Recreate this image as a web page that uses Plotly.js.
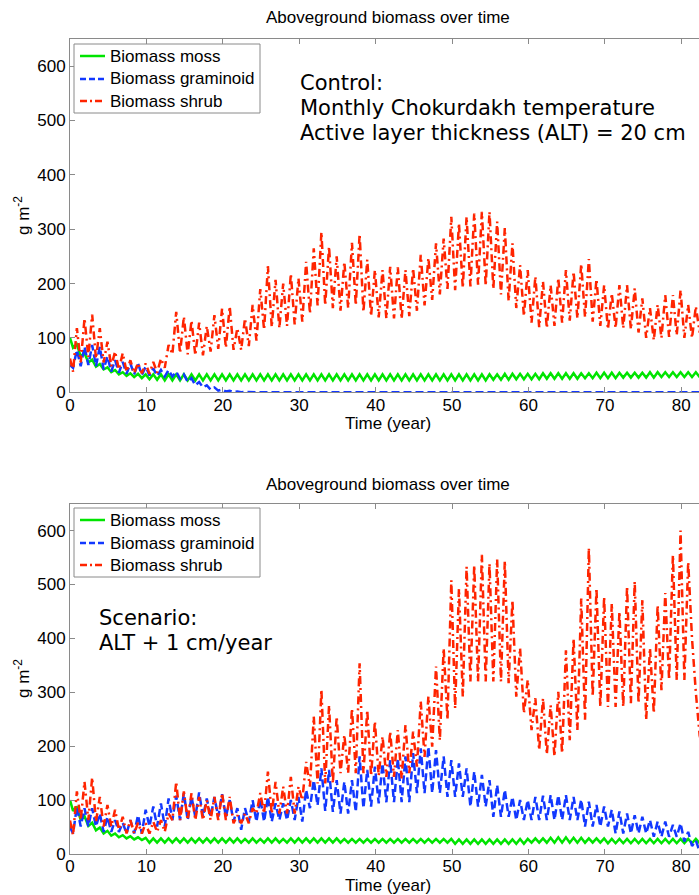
<!DOCTYPE html>
<html>
<head>
<meta charset="utf-8">
<script src="https://cdn.plot.ly/plotly-3.0.1.min.js"></script>
<style>
html,body{margin:0;padding:0;overflow:hidden;background:#fff;}
#chart{width:712px;height:895px;}
</style>
</head>
<body>
<div id="chart"></div>
<script>
// ---------- DATA ----------
// Each model year k: "low" = seasonal minimum (plotted at k+0.4), "high" = seasonal maximum (plotted at k+0.9)
const seriesNames = ['Biomass moss', 'Biomass graminoid', 'Biomass shrub'];
const panelTitles = ['Aboveground biomass over time', 'Aboveground biomass over time'];
const xTickLabels = ['0','10','20','30','40','50','60','70','80'];
const yTickLabels = ['0','100','200','300','400','500','600'];

// Control run
const ctrlMossStart = 100;
const ctrlMossHigh = [88,72,60,52,46,41,37,35,34,33, 33,33,33,33,33,33,33,33,33,33,
  33,33,33,33,33,33,33,33,33,33, 33,33,33,33,33,33,33,33,33,33,
  33,33,33,33,33,33,33,33,33,33, 33,33,33,33,33,33,34,34,34,34,
  34,35,35,35,35,35,35,35,36,36, 36,36,36,36,36,37,37,37,37,37, 37,37,37];
const ctrlMossLow = [82,66,55,47,42,37,33,30,28,26, 24,23,22,22,22,22,22,22,22,22,
  22,22,22,22,22,22,22,22,22,22, 22,22,22,22,22,22,22,22,22,22,
  22,22,22,22,22,22,22,22,22,22, 22,22,22,22,22,23,23,23,24,24,
  24,24,25,25,25,25,25,26,26,26, 26,26,27,27,27,27,27,28,28,28, 28,28,28];

const ctrlGramStart = 50;
const ctrlGramHigh = [78,84,87,84,66,59,56,53,53,47, 44,41,41,38,33,26,19,13,9,5,
  3,1.5,0.6,0.3,0.1,0,0,0,0,0, 0,0,0,0,0,0,0,0,0,0,
  0,0,0,0,0,0,0,0,0,0, 0,0,0,0,0,0,0,0,0,0,
  0,0,0,0,0,0,0,0,0,0, 0,0,0,0,0,0,0,0,0,0, 0,0,0];
const ctrlGramLow = [45,48,50,48,42,38,36,34,33,32, 31,30,29,29,25,19,13,9,5,3,
  1.5,0.6,0.2,0.1,0,0,0,0,0,0, 0,0,0,0,0,0,0,0,0,0,
  0,0,0,0,0,0,0,0,0,0, 0,0,0,0,0,0,0,0,0,0,
  0,0,0,0,0,0,0,0,0,0, 0,0,0,0,0,0,0,0,0,0, 0,0,0];

const ctrlShrubStart = 62;
const ctrlShrubHigh = [118,136,143,118,93,75,72,59,54,53, 56,62,87,148,139,132,128,122,142,154,
  158,118,136,161,190,232,207,200,218,210, 240,265,295,268,250,240,275,291,244,225,
  225,231,230,225,228,253,247,274,283,323, 311,323,329,332,332,314,302,274,234,225,
  213,204,197,210,225,222,236,245,208,197, 182,197,197,191,173,155,161,179,179,188, 161,158,150];
const ctrlShrubLow = [38,55,65,62,55,48,42,38,35,35, 34,36,45,70,72,70,68,68,75,80,
  82,78,78,85,95,115,120,118,122,125, 130,145,160,160,155,150,155,160,148,140,
  138,136,136,135,140,150,160,170,180,190, 188,192,195,198,196,190,180,168,155,140,
  128,120,118,122,128,132,136,138,130,122, 116,118,118,116,110,100,96,100,102,105, 100,100,110];

// Scenario run (ALT + 1 cm/year)
const scenMossStart = 100;
const scenMossHigh = [88,70,58,49,43,38,35,33,31,30, 29,29,29,29,29,29,29,29,29,29,
  29,29,28,29,28,29,29,28,29,29, 29,29,29,29,29,28,28,28,28,28,
  28,28,28,28,28,28,28,28,28,28, 27,27,27,27,27,27,27,27,28,28,
  29,29,30,31,31,30,30,29,29,29, 28,28,28,28,28,28,28,28,28,28, 28,28,28];
const scenMossLow = [80,63,52,44,38,34,31,29,27,26, 21,21,21,21,21,21,21,21,21,21,
  21,21,21,21,21,21,21,21,21,21, 21,21,21,21,21,21,21,21,21,21,
  21,21,21,21,21,21,21,21,21,21, 19,19,19,19,19,19,19,19,19,19,
  21,21,21,21,21,21,21,21,21,21, 20,20,20,20,20,20,20,20,20,20, 20,20,20];

const scenGramStart = 50;
const scenGramHigh = [88,85,85,75,69,63,58,63,72,82, 88,94,103,108,113,106,114,103,106,111,
  100,85,85,100,103,106,94,94,100,106, 119,137,159,156,137,134,137,181,156,162,
  168,174,177,181,187,196,199,193,181,174, 168,159,153,147,137,128,119,106,100,100,
  106,108,109,109,109,106,101,97,91,88, 82,79,75,72,69,63,60,60,54,57, 41,25,10];
const scenGramLow = [38,51,51,51,41,41,41,38,38,38, 51,51,51,63,63,63,69,69,69,69,
  69,60,45,60,60,60,60,63,63,63, 60,85,90,80,78,75,75,78,85,88,
  94,96,96,96,96,113,113,113,113,106, 106,106,88,88,88,69,69,69,63,63,
  63,63,63,63,63,63,63,51,51,51, 51,38,38,38,38,38,32,32,32,32, 23,15,5];

const scenShrubStart = 62;
const scenShrubHigh = [116,134,142,106,91,82,69,63,58,57, 60,63,75,134,116,113,106,100,106,113,
  106,72,75,85,113,153,134,125,143,125, 171,255,305,276,255,221,270,354,267,246,
  218,227,230,239,227,283,292,348,382,508, 492,533,536,555,539,547,544,471,382,323,
  289,289,276,301,378,400,474,568,493,477, 465,450,497,506,471,382,462,484,555,600, 542,300,190];
const scenShrubLow = [35,63,63,60,51,51,45,38,38,38, 38,41,41,63,63,63,63,63,63,63,
  63,57,57,57,75,75,75,75,75,75, 100,125,131,131,131,150,150,150,150,145,
  145,143,143,140,150,162,180,199,211,249, 270,292,320,320,320,320,320,317,292,261,
  230,193,185,181,187,211,230,249,292,273, 273,273,273,280,280,249,261,304,323,323, 323,400,220];

// ---------- BUILD ----------
function seasonal(start, low, high) {
  const x = [0], y = [start];
  for (let k = 0; k < low.length; k++) {
    x.push(k + 0.4); y.push(low[k]);
    x.push(k + 0.9); y.push(high[k]);
  }
  return {x, y};
}

const GREEN = '#00e400', BLUE = '#1238ff', RED = '#ff2400';
const COLORS = [GREEN, BLUE, RED];
const DASHES = ['solid', '8px,4px', '8px,4px,2px,4px'];
const LEG_DASHES = ['solid', '6px,3px', '7px,3px,2px,3px'];
const LW = 2.5;

function traces(mossS, mossL, mossH, gramS, gramL, gramH, shrubS, shrubL, shrubH, xa, ya) {
  const sets = [seasonal(mossS, mossL, mossH), seasonal(gramS, gramL, gramH), seasonal(shrubS, shrubL, shrubH)];
  return sets.map((d, i) => ({
    x: d.x, y: d.y, name: seriesNames[i], type: 'scatter', mode: 'lines', xaxis: xa, yaxis: ya,
    showlegend: false, line: {color: COLORS[i], width: LW, dash: DASHES[i]}
  }));
}

const data = [].concat(
  traces(ctrlMossStart, ctrlMossLow, ctrlMossHigh, ctrlGramStart, ctrlGramLow, ctrlGramHigh,
         ctrlShrubStart, ctrlShrubLow, ctrlShrubHigh, 'x', 'y'),
  traces(scenMossStart, scenMossLow, scenMossHigh, scenGramStart, scenGramLow, scenGramHigh,
         scenShrubStart, scenShrubLow, scenShrubHigh, 'x2', 'y2')
);

const H = 895;
const py = p => 1 - p / H;           // pixel row -> paper y
const W0 = 70, PW = 635;
const px = p => (p - W0) / PW;       // pixel col -> paper x

const FONT = 'Liberation Sans, Arial, Helvetica, sans-serif';
const AX = '#8a8a8a';

function xAxis(anchor) {
  return {
    anchor: anchor, domain: [0, 1], range: [0, 83.1],
    tickmode: 'array', tickvals: xTickLabels.map(Number), ticktext: xTickLabels,
    ticks: 'inside', ticklen: 5, tickwidth: 1, tickcolor: AX,
    showline: true, linecolor: AX, linewidth: 1, mirror: 'ticks',
    showgrid: false, zeroline: false, ticklabelstandoff: -3,
    tickfont: {family: FONT, size: 17, color: '#000'}
  };
}
function yAxis(anchor, dom) {
  return {
    anchor: anchor, domain: dom, range: [0, 650],
    tickmode: 'array', tickvals: yTickLabels.map(Number), ticktext: yTickLabels,
    ticks: 'inside', ticklen: 5, tickwidth: 1, tickcolor: AX,
    showline: true, linecolor: AX, linewidth: 1, mirror: 'ticks',
    showgrid: false, zeroline: false,
    tickfont: {family: FONT, size: 17, color: '#000'}
  };
}

const annFont = {family: 'DejaVu Sans, Verdana, sans-serif', size: 21, color: '#000'};
const labFont = {family: FONT, size: 17, color: '#000'};

function ann(text, xp, yp, font, extra) {
  return Object.assign({text: text, x: xp, y: yp, xref: 'paper', yref: 'paper', showarrow: false,
    font: font, xanchor: 'center', yanchor: 'middle'}, extra || {});
}

const annotations = [
  ann(panelTitles[0], 0.5, py(18), labFont),
  ann(panelTitles[1], 0.5, py(484), labFont),
  ann('Time (year)', 0.5, py(424), labFont),
  ann('Time (year)', 0.5, py(885), labFont),
  ann('g m<sup>-2</sup>', px(22), py(216), labFont, {textangle: -90}),
  ann('g m<sup>-2</sup>', px(22), py(679), labFont, {textangle: -90}),
  ann('Control:', px(298), py(83), annFont, {xanchor: 'left'}),
  ann('Monthly Chokurdakh temperature', px(298), py(108), annFont, {xanchor: 'left'}),
  ann('Active layer thickness (ALT) = 20 cm', px(298), py(133), annFont, {xanchor: 'left'}),
  ann('Scenario:', px(97), py(618), annFont, {xanchor: 'left'}),
  ann('ALT + 1 cm/year', px(97), py(643), annFont, {xanchor: 'left'})
];

// Legend boxes (one per panel), drawn as shapes + text
const shapes = [];
[44, 508].forEach(top => {
  shapes.push({type: 'rect', xref: 'paper', yref: 'paper', x0: px(74), x1: px(260), y0: py(top + 69), y1: py(top),
    line: {color: AX, width: 1}, fillcolor: '#fff', layer: 'above'});
  [12, 35, 57].forEach((dy, i) => {
    shapes.push({type: 'line', xref: 'paper', yref: 'paper', x0: px(80), x1: px(105), y0: py(top + dy), y1: py(top + dy),
      line: {color: COLORS[i], width: LW, dash: LEG_DASHES[i]}, layer: 'above'});
    annotations.push(ann(seriesNames[i], px(108), py(top + dy), labFont, {xanchor: 'left'}));
  });
});

const layout = {
  width: 712, height: H,
  margin: {l: W0, r: 712 - W0 - PW, t: 0, b: 0, pad: 0},
  paper_bgcolor: '#fff', plot_bgcolor: '#fff',
  xaxis: xAxis('y'), yaxis: yAxis('x', [py(392.3), py(39)]),
  xaxis2: xAxis('y2'), yaxis2: yAxis('x2', [py(854), py(503.7)]),
  annotations: annotations, shapes: shapes,
  showlegend: false
};

Plotly.newPlot('chart', data, layout, {displayModeBar: false, staticPlot: true});
</script>
</body>
</html>
